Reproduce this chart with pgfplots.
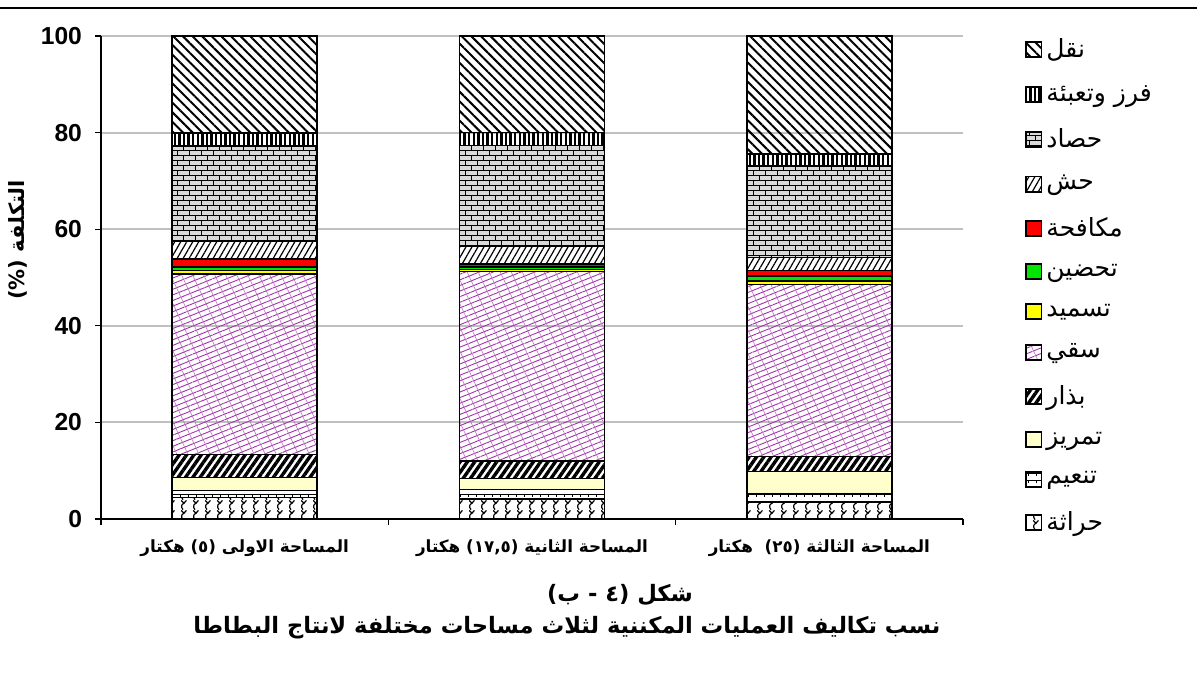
\documentclass[border=0pt]{standalone}
\usepackage{pgfplots}
\pgfplotsset{compat=1.18}
\usepackage{pgfplotstable}
\usetikzlibrary{patterns,patterns.meta}
\usepackage{fontspec}
\setmainfont{Liberation Sans}
\newfontfamily\arabicfont[Script=Arabic]{DejaVu Sans}
\TeXXeTstate=1
\definecolor{gridc}{RGB}{192,192,192}
\definecolor{lightyel}{RGB}{255,255,204}
\definecolor{irrc}{RGB}{160,50,170}
\definecolor{yelc}{RGB}{255,255,0}
\definecolor{grnc}{RGB}{0,230,0}
\definecolor{redc}{RGB}{255,0,0}

\pgfdeclarepatternformonly{smallbricks}{\pgfqpoint{-0.1pt}{-0.1pt}}{\pgfqpoint{6.1pt}{5.1pt}}{\pgfqpoint{6pt}{5pt}}{%
 \pgfsetlinewidth{0.45pt}%
 \pgfpathmoveto{\pgfqpoint{0pt}{0pt}}\pgfpathlineto{\pgfqpoint{6pt}{0pt}}%
 \pgfpathmoveto{\pgfqpoint{0pt}{2.5pt}}\pgfpathlineto{\pgfqpoint{6pt}{2.5pt}}%
 \pgfpathmoveto{\pgfqpoint{1.5pt}{0pt}}\pgfpathlineto{\pgfqpoint{1.5pt}{2.5pt}}%
 \pgfpathmoveto{\pgfqpoint{4.5pt}{2.5pt}}\pgfpathlineto{\pgfqpoint{4.5pt}{5pt}}%
 \pgfusepath{stroke}}
\pgfdeclarepatternformonly{tees}{\pgfqpoint{-0.1pt}{-0.1pt}}{\pgfqpoint{4.1pt}{3.6pt}}{\pgfqpoint{4pt}{3.5pt}}{%
 \pgfsetlinewidth{0.5pt}%
 \pgfpathmoveto{\pgfqpoint{0pt}{3pt}}\pgfpathlineto{\pgfqpoint{4pt}{3pt}}%
 \pgfpathmoveto{\pgfqpoint{2pt}{3pt}}\pgfpathlineto{\pgfqpoint{2pt}{1.8pt}}%
 \pgfusepath{stroke}}
\pgfdeclarepatternformonly{waves}{\pgfqpoint{-0.2pt}{-0.2pt}}{\pgfqpoint{6.2pt}{5.2pt}}{\pgfqpoint{6pt}{5pt}}{%
 \pgfsetlinewidth{0.6pt}%
 \pgfpathmoveto{\pgfqpoint{1.5pt}{0.2pt}}%
 \pgfpathcurveto{\pgfqpoint{0.4pt}{1.5pt}}{\pgfqpoint{0.6pt}{2.8pt}}{\pgfqpoint{2pt}{3.4pt}}%
 \pgfpathlineto{\pgfqpoint{3.2pt}{4.8pt}}%
 \pgfpathmoveto{\pgfqpoint{2pt}{3.4pt}}\pgfpathlineto{\pgfqpoint{0.6pt}{4.8pt}}%
 \pgfusepath{stroke}}

\pgfplotstableread{
x plow smooth furrow seed irr fert hill pest weed harv sort trans
0 4.4 1.5 2.7 4.8 37.3 0.8 0.7 1.6 3.6 19.8 2.7 20.1
1 4.1 2.0 2.3 3.6 39.2 0.4 0.6 0.6 3.6 20.9 2.7 20.0
2 3.5 1.8 4.5 3.2 35.6 0.7 1.0 1.1 2.8 18.9 2.5 24.4
}\datatable

\begin{document}
\begin{tikzpicture}[x=1pt,y=1pt]
\useasboundingbox (0,0) rectangle (598.5,345);
\draw[line width=1pt] (0,341) -- (598.5,341);
\begin{axis}[
  at={(50.5pt,85.5pt)}, anchor=south west,
  scale only axis, width=431pt, height=241.5pt,
  ybar stacked, bar width=72.5pt,
  xmin=-0.5, xmax=2.5, ymin=0, ymax=100,
  axis x line*=bottom, axis y line*=left,
  axis line style={line width=0.9pt},
  ytick={0,20,...,100},
  ymajorgrids, grid style={draw=gridc, line width=1pt},
  tick align=outside, major tick length=3pt,
  tick style={black, line width=0.6pt},
  xtick={-0.5,0.5,1.5,2.5}, xticklabels={{},{},{},{}},
  extra x ticks={0,1,2},
  extra x tick style={tick style={draw=none}, grid=none},
  extra x tick labels={{\arabicfont\bfseries\beginR المساحة الاولى (٥) هكتار\endR},{\arabicfont\bfseries\beginR المساحة الثانية (١٧,٥) هكتار\endR},{\arabicfont\bfseries\beginR المساحة الثالثة (٢٥)~ هكتار\endR}},
  xticklabel style={font=\fontsize{8.4}{10}\selectfont, yshift=-4pt},
  /pgf/number format/assume math mode=true,
  yticklabel style={font=\bfseries\fontsize{12.3}{14}\selectfont, xshift=-3pt},
  every axis plot/.append style={draw=black, line width=0.7pt},
  reverse legend,
  legend style={at={(1.065,1.012)}, anchor=north west, draw=none, fill=none,
    font=\fontsize{12.5}{14}\selectfont, row sep=8.3pt, cells={anchor=west}},
  legend image code/.code={\draw[#1, line width=0.9pt] (0pt,-3.8pt) rectangle (7.6pt,3.8pt);},
]
\addplot[fill=white, pattern=waves] table[x=x,y=plow]{\datatable};
\addlegendentry{{\arabicfont\beginR حراثة\endR}}
\addplot[fill=white, pattern=tees] table[x=x,y=smooth]{\datatable};
\addlegendentry{{\arabicfont\beginR تنعيم\endR}}
\addplot[fill=lightyel] table[x=x,y=furrow]{\datatable};
\addlegendentry{{\arabicfont\beginR تمريز\endR}}
\addplot[pattern={Lines[angle=55,distance=3pt,line width=1.7pt]}] table[x=x,y=seed]{\datatable};
\addlegendentry{{\arabicfont\beginR بذار\endR}}
\addplot[pattern={Lines[angle=22,distance=2.6pt,line width=0.45pt]}, pattern color=irrc,
  postaction={pattern={Lines[angle=-65,distance=5pt,line width=0.3pt]}, pattern color=irrc!70}] table[x=x,y=irr]{\datatable};
\addlegendentry{{\arabicfont\beginR سقي\endR}}
\addplot[fill=yelc] table[x=x,y=fert]{\datatable};
\addlegendentry{{\arabicfont\beginR تسميد\endR}}
\addplot[fill=grnc] table[x=x,y=hill]{\datatable};
\addlegendentry{{\arabicfont\beginR تحضين\endR}}
\addplot[fill=redc] table[x=x,y=pest]{\datatable};
\addlegendentry{{\arabicfont\beginR مكافحة\endR}}
\addplot[pattern={Lines[angle=60,distance=2.6pt,line width=0.6pt]}] table[x=x,y=weed]{\datatable};
\addlegendentry{{\arabicfont\beginR حش\endR}}
\addplot[fill=gray!30, postaction={pattern=smallbricks}] table[x=x,y=harv]{\datatable};
\addlegendentry{{\arabicfont\beginR حصاد\endR}}
\addplot[pattern={Lines[angle=90,distance=2.3pt,line width=1.2pt]}] table[x=x,y=sort]{\datatable};
\addlegendentry{{\arabicfont\beginR فرز وتعبئة\endR}}
\addplot[pattern={Lines[angle=-45,distance=3.4pt,line width=1pt]}] table[x=x,y=trans]{\datatable};
\addlegendentry{{\arabicfont\beginR نقل\endR}}
\end{axis}
\node[rotate=90, font=\fontsize{10.5}{12}\selectfont] at (9,225) {\arabicfont\bfseries\beginR التكلفة (\%)\endR};
\node[font=\fontsize{11.3}{13}\selectfont] at (310,47.5) {\arabicfont\bfseries\beginR شكل (٤ - ب)\endR};
\node[font=\fontsize{11.3}{13}\selectfont] at (283.5,31) {\arabicfont\bfseries\beginR نسب تكاليف العمليات المكننية لثلاث مساحات مختلفة لانتاج البطاطا\endR};
\end{tikzpicture}
\end{document}
